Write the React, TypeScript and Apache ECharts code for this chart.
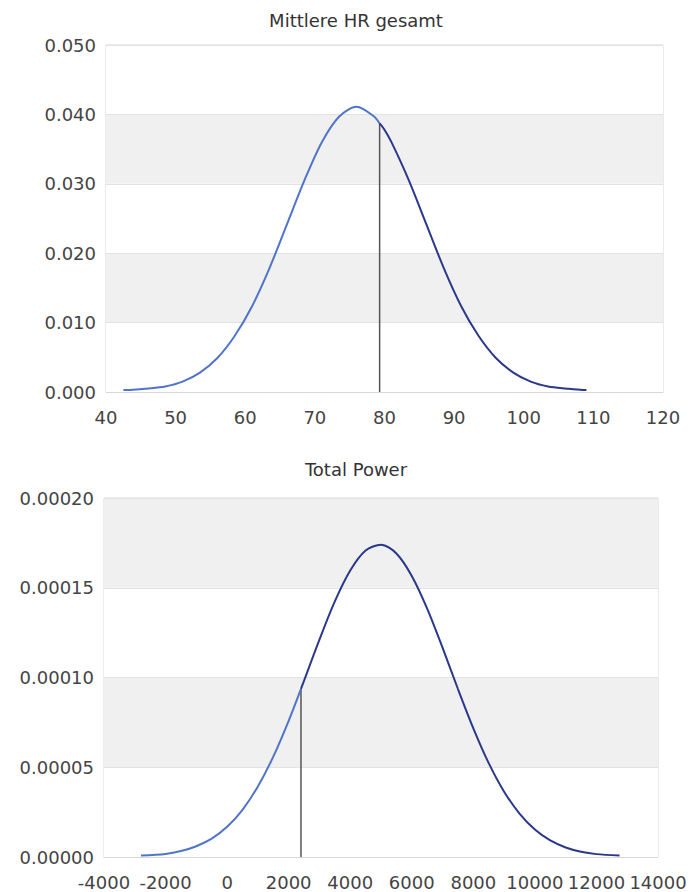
import React, { useEffect, useRef } from "react";
import * as echarts from "echarts";

// Chart 1: Mittlere HR gesamt
const hrTitle = "Mittlere HR gesamt";
const hrX = [42.5, 43.5, 46, 48.5, 51, 53.5, 56, 58.5, 61, 63.5, 66, 68.5, 71, 73.5, 76, 78.5, 80, 81, 83.5, 86, 88.5, 91, 93.5, 96, 98.5, 101, 103.5, 106, 108.5, 109];
const hrY = [0.0003, 0.0003, 0.0005, 0.0008, 0.0015, 0.0028, 0.0049, 0.0081, 0.0124, 0.0179, 0.0242, 0.0305, 0.036, 0.0397, 0.0411, 0.0397, 0.0378, 0.036, 0.0305, 0.0242, 0.0179, 0.0124, 0.0081, 0.0049, 0.0028, 0.0015, 0.0008, 0.0005, 0.0003, 0.0003];
const hrMarkerX = 79.3;
const hrMarkerY = 0.0387;

// Chart 2: Total Power
const tpTitle = "Total Power";
const tpX = [-2800, -2000, -1500, -1000, -500, 0, 500, 1000, 1500, 2000, 2500, 3000, 3500, 4000, 4500, 5000, 5500, 6000, 6500, 7000, 7500, 8000, 8500, 9000, 9500, 10000, 10500, 11000, 11500, 12000, 12750];
const tpY = [0.0000008, 0.0000017, 0.0000033, 0.000006, 0.0000102, 0.0000168, 0.0000263, 0.0000393, 0.0000559, 0.0000759, 0.0000982, 0.0001211, 0.0001424, 0.0001596, 0.0001707, 0.000174, 0.0001691, 0.0001566, 0.0001384, 0.0001166, 0.0000936, 0.0000717, 0.0000523, 0.0000364, 0.0000242, 0.0000153, 0.0000092, 0.0000053, 0.0000029, 0.0000016, 0.0000008];
const tpMarkerX = 2400;
const tpMarkerY = 0.0000937;

const LIGHT = "#4f74c8";
const DARK = "#2a388c";
const FONT = "DejaVu Sans";

function splitAt(xs: number[], ys: number[], mx: number, my: number) {
  const left: number[][] = [];
  const right: number[][] = [];
  xs.forEach((x, i) => {
    if (x < mx) left.push([x, ys[i]]);
    else right.push([x, ys[i]]);
  });
  left.push([mx, my]);
  right.unshift([mx, my]);
  return { left, right };
}

export default function App() {
  const ref = useRef<HTMLDivElement>(null);
  useEffect(() => {
    if (!ref.current) return;
    const chart = echarts.init(ref.current, null, { renderer: "svg" });
    const axisLabel = { color: "#444", fontSize: 18, fontFamily: FONT };
    const xCommon = {
      type: "value" as const,
      axisLine: { show: true, lineStyle: { color: "#d8d8d8" } },
      axisTick: { show: false },
      splitLine: { show: false },
    };
    const yCommon = {
      type: "value" as const,
      axisLine: { show: false },
      axisTick: { show: false },
      splitLine: { show: true, lineStyle: { color: "#e2e2e2" } },
      splitArea: { show: true, areaStyle: { color: ["#ffffff", "#f0f0f0"] } },
    };
    const hr = splitAt(hrX, hrY, hrMarkerX, hrMarkerY);
    const tp = splitAt(tpX, tpY, tpMarkerX, tpMarkerY);
    const curve = (xi: number, data: number[][], color: string) => ({
      type: "line", xAxisIndex: xi, yAxisIndex: xi, smooth: 0.3, showSymbol: false, symbol: "none",
      lineStyle: { width: 2, color }, itemStyle: { color }, data, z: 3,
    });
    const marker = (xi: number, mx: number, my: number) => ({
      type: "line", xAxisIndex: xi, yAxisIndex: xi, showSymbol: false, symbol: "none",
      lineStyle: { width: 1.5, color: "#555" }, itemStyle: { color: "#555" },
      data: [[mx, 0], [mx, my]], z: 2,
    });
    const titleStyle = { fontFamily: FONT, fontSize: 18, fontWeight: "normal", color: "#333" };
    chart.setOption({
      animation: false,
      title: [
        { text: hrTitle, left: 351, textAlign: "center", top: 6, textStyle: titleStyle },
        { text: tpTitle, left: 351, textAlign: "center", top: 455, textStyle: titleStyle },
      ],
      grid: [
        { left: 106, right: 27, top: 45, height: 347, show: true, borderColor: "#d8d8d8", borderWidth: 1, backgroundColor: "transparent" },
        { left: 104, right: 32, top: 498, height: 359, show: true, borderColor: "#d8d8d8", borderWidth: 1, backgroundColor: "transparent" },
      ],
      xAxis: [
        { ...xCommon, gridIndex: 0, min: 40, max: 120, interval: 10, axisLabel: { ...axisLabel, margin: 16, formatter: (v: number) => String(v) } },
        { ...xCommon, gridIndex: 1, min: -4000, max: 14000, interval: 2000, axisLabel: { ...axisLabel, margin: 16, hideOverlap: false, formatter: (v: number) => String(v) } },
      ],
      yAxis: [
        { ...yCommon, gridIndex: 0, min: 0, max: 0.05, interval: 0.01, axisLabel: { ...axisLabel, margin: 10, formatter: (v: number) => v.toFixed(3) } },
        { ...yCommon, gridIndex: 1, min: 0, max: 0.0002, interval: 0.00005, axisLabel: { ...axisLabel, margin: 10, formatter: (v: number) => v.toFixed(5) } },
      ],
      series: [
        curve(0, hr.left, LIGHT),
        curve(0, hr.right, DARK),
        marker(0, hrMarkerX, hrMarkerY),
        curve(1, tp.left, LIGHT),
        curve(1, tp.right, DARK),
        marker(1, tpMarkerX, tpMarkerY),
      ],
    });
    return () => chart.dispose();
  }, []);
  return <div ref={ref} style={{ position: "absolute", left: 0, top: 0, width: 690, height: 892, background: "#fff" }} />;
}
